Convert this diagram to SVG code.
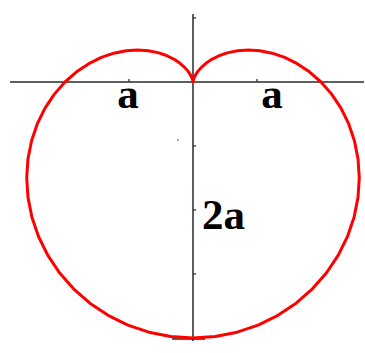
<svg xmlns="http://www.w3.org/2000/svg" width="365" height="353" viewBox="0 0 365 353">
<style>
.axis{stroke:#2a2a2a;stroke-width:1.5;fill:none}
.tick{stroke:#2a2a2a;stroke-width:1.2;fill:none}
.curve{stroke:#ff0000;stroke-width:3;fill:none;stroke-linejoin:round}
.lbl{font-family:"Liberation Serif","Times New Roman",serif;font-weight:bold;font-size:43px;fill:#000}
</style>
<rect width="365" height="353" fill="#fff"/>
<g id="axes">
<line class="axis" x1="10" y1="82" x2="364" y2="82"/>
<line class="axis" x1="193" y1="14" x2="193" y2="341"/>
<line class="tick" x1="129" y1="79" x2="129" y2="82"/>
<line class="tick" x1="257" y1="79" x2="257" y2="82"/>
<line class="tick" x1="193" y1="18" x2="196" y2="18"/>
<line class="tick" x1="193" y1="146" x2="196" y2="146"/>
<line class="tick" x1="193" y1="210" x2="196" y2="210"/>
<line class="tick" x1="193" y1="274" x2="196" y2="274"/>
<line class="axis" x1="172" y1="339" x2="205" y2="339"/>
<circle cx="178" cy="140" r="0.8" fill="#444"/>
</g>
<g id="cardioid">
<path class="curve" d="M193,82 L193.34,80.09 194.13,77.79 195.64,74.75 198.07,71.13 201.57,67.15 206.28,63.04 212.25,59.06 219.51,55.49 228.02,52.61 237.71,50.69 248.43,50 259.98,50.77 272.14,53.19 284.64,57.45 297.16,63.63 309.40,71.82 321,82 331.63,94.13 340.95,108.09 348.64,123.70 354.42,140.75 358.04,158.96 359.28,178 357.99,197.53 354.08,217.17 347.51,236.51 338.30,255.17 326.56,272.74 312.43,288.85 296.12,303.15 277.92,315.31 258.13,325.07 237.12,332.20 215.27,336.54 193,338 170.73,336.54 148.88,332.20 127.87,325.07 108.08,315.31 89.88,303.15 73.57,288.85 59.44,272.74 47.70,255.17 38.49,236.51 31.92,217.17 28.01,197.53 26.72,178 27.96,158.96 31.58,140.75 37.36,123.70 45.05,108.09 54.37,94.13 65,82 76.60,71.82 88.84,63.63 101.36,57.45 113.86,53.19 126.02,50.77 137.57,50 148.29,50.69 157.98,52.61 166.49,55.49 173.75,59.06 179.72,63.04 184.43,67.15 187.93,71.13 190.36,74.75 191.87,77.79 192.66,80.09 Z"/>
</g>
<g id="labels">
<text class="lbl" x="128" y="108" text-anchor="middle">a</text>
<text class="lbl" x="272" y="108" text-anchor="middle">a</text>
<text class="lbl" x="202" y="229">2a</text>
</g>
</svg>
